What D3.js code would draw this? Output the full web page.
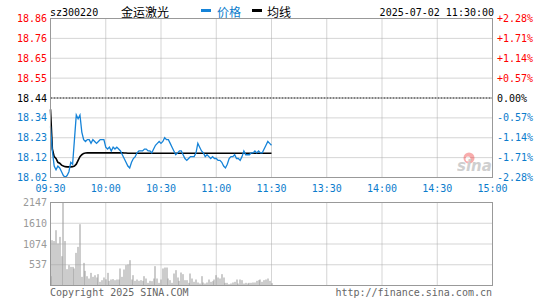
<!DOCTYPE html>
<html>
<head>
<meta charset="utf-8">
<script src="https://cdn.jsdelivr.net/npm/d3@7"></script>
<style>
  body { margin: 0; background: #fff; }
  svg text { font-family: "DejaVu Sans Mono", "Liberation Mono", monospace; font-size: 10px; }
  .cn { font-family: "Noto Sans CJK SC", sans-serif; font-size: 12px; }
</style>
</head>
<body>
<svg id="chart" width="545" height="300"></svg>
<script>
// 行情数据（每分钟一个点，09:30 - 11:30）
const stockCode = 'sz300220';
const stockName = '金运激光';
const dateTime = '2025-07-02 11:30:00';
const preClose = 18.44;
const maxPct = 2.28;

const priceLabels = ['18.86', '18.76', '18.65', '18.55', '18.44', '18.34', '18.23', '18.12', '18.02'];
const pctLabels = ['+2.28%', '+1.71%', '+1.14%', '+0.57%', '0.00%', '-0.57%', '-1.14%', '-1.71%', '-2.28%'];
const timeLabels = ['09:30', '10:00', '10:30', '11:00', '11:30', '13:30', '14:00', '14:30', '15:00'];
const volLabels = ['2147', '1610', '1074', '537'];
const volMax = 2147;

const prices = [
  18.29, 18.16, 18.08, 18.06, 18.08, 18.07, 18.05, 18.03, 18.02, 18.03,
  18.05, 18.10, 18.09, 18.22, 18.35, 18.33, 18.35, 18.26, 18.22, 18.21,
  18.22, 18.22, 18.20, 18.22, 18.21, 18.20, 18.21, 18.22, 18.22, 18.22,
  18.18, 18.17, 18.18, 18.16, 18.18, 18.17, 18.18, 18.17, 18.16, 18.14,
  18.12, 18.10, 18.08, 18.07, 18.10, 18.12, 18.13, 18.15, 18.16, 18.16,
  18.16, 18.17, 18.17, 18.16, 18.16, 18.15, 18.17, 18.19, 18.20, 18.21,
  18.20, 18.21, 18.23, 18.22, 18.22, 18.20, 18.18, 18.16, 18.14, 18.15,
  18.16, 18.16, 18.14, 18.12, 18.11, 18.12, 18.13, 18.13, 18.13, 18.15,
  18.20, 18.18, 18.16, 18.15, 18.13, 18.14, 18.13, 18.12, 18.13, 18.12,
  18.12, 18.11, 18.11, 18.10, 18.08, 18.07, 18.09, 18.12, 18.13, 18.13,
  18.14, 18.12, 18.12, 18.11, 18.13, 18.16, 18.14, 18.14, 18.14, 18.15,
  18.15, 18.16, 18.15, 18.16, 18.15, 18.15, 18.17, 18.19, 18.21, 18.20,
  18.19
];

const avgPrices = [
  18.380, 18.170, 18.130, 18.120, 18.100, 18.095, 18.085, 18.080, 18.077, 18.076,
  18.076, 18.076, 18.077, 18.080, 18.090, 18.110, 18.130, 18.140, 18.147, 18.149,
  18.150, 18.150, 18.150, 18.150, 18.150, 18.150, 18.150, 18.150, 18.150, 18.150,
  18.150, 18.150, 18.150, 18.150, 18.150, 18.150, 18.150, 18.150, 18.150, 18.150,
  18.149, 18.149, 18.148, 18.148, 18.148, 18.148, 18.148, 18.148, 18.148, 18.148,
  18.148, 18.148, 18.148, 18.148, 18.148, 18.148, 18.148, 18.148, 18.148, 18.148,
  18.148, 18.148, 18.148, 18.148, 18.148, 18.148, 18.148, 18.148, 18.148, 18.148,
  18.148, 18.148, 18.148, 18.148, 18.148, 18.148, 18.148, 18.148, 18.148, 18.148,
  18.148, 18.148, 18.148, 18.148, 18.148, 18.148, 18.148, 18.148, 18.148, 18.148,
  18.148, 18.148, 18.148, 18.148, 18.148, 18.148, 18.148, 18.148, 18.148, 18.148,
  18.148, 18.148, 18.148, 18.148, 18.148, 18.148, 18.148, 18.148, 18.148, 18.148,
  18.148, 18.148, 18.148, 18.148, 18.148, 18.148, 18.148, 18.148, 18.148, 18.148,
  18.148
];

const volumes = [
  240, 1172, 1150, 1430, 1086, 1257, 758, 2147, 1150, 422,
  525, 482, 482, 440, 844, 999, 1586, 224, 585, 378,
  240, 180, 327, 224, 265, 207, 293, 94, 137, 207,
  160, 327, 120, 155, 165, 137, 155, 155, 440, 224,
  414, 526, 543, 655, 155, 267, 121, 155, 121, 138,
  121, 241, 181, 69, 121, 112, 181, 500, 181, 69,
  155, 440, 465, 465, 181, 138, 69, 310, 397, 207,
  121, 336, 293, 138, 138, 69, 310, 181, 95, 155,
  78, 52, 241, 78, 52, 78, 155, 95, 112, 155,
  267, 207, 181, 293, 207, 69, 69, 34, 52, 78,
  95, 155, 52, 155, 138, 52, 69, 52, 69, 69,
  78, 78, 121, 138, 155, 95, 138, 155, 181, 120,
  60
];

const svg = d3.select('#chart');
const L = 50.5, R = 492.5;
const priceTop = 18.5, priceBottom = 177.5;
const volTop = 202.5, volBottom = 285.5;

const blue = '#0b7ccc';
const lineBlue = '#1583d8';
const grey = '#999';

const x = d3.scaleLinear().domain([0, 240]).range([L, R]);
const y = d3.scaleLinear()
  .domain([preClose * (1 - maxPct / 100), preClose * (1 + maxPct / 100)])
  .range([priceBottom, priceTop]);
const yVol = d3.scaleLinear().domain([0, volMax]).range([volBottom, volTop]);

// 网格位置
const gridY = d3.range(priceLabels.length).map(i => priceTop + i * (priceBottom - priceTop) / (priceLabels.length - 1));
const gridX = d3.range(timeLabels.length).map(i => x(i * 30));
const volGridY = d3.range(volLabels.length).map(i => volTop + i * (volBottom - volTop) / volLabels.length);

function labelColor(i) {
  if (i < 4) return '#f00';
  if (i === 4) return '#000';
  return blue;
}

// 标题
svg.append('text').attr('x', 50).attr('y', 16).attr('fill', '#000').text(stockCode);
svg.append('text').attr('class', 'cn').attr('x', 121).attr('y', 17).attr('fill', '#000').text(stockName);
svg.append('rect').attr('x', 201).attr('y', 9).attr('width', 10).attr('height', 3).attr('fill', lineBlue);
svg.append('text').attr('class', 'cn').attr('x', 217).attr('y', 17).attr('fill', blue).text('价格');
svg.append('rect').attr('x', 252).attr('y', 9).attr('width', 10).attr('height', 3).attr('fill', '#000');
svg.append('text').attr('class', 'cn').attr('x', 267).attr('y', 17).attr('fill', '#000').text('均线');
svg.append('text').attr('x', 494).attr('y', 16).attr('text-anchor', 'end').attr('fill', '#000').text(dateTime);

// 价格区网格
gridY.forEach((gy, i) => {
  if (i === 0 || i === gridY.length - 1) return;
  svg.append('line')
    .attr('x1', L).attr('x2', R).attr('y1', gy).attr('y2', gy)
    .attr('stroke', i === 4 ? '#000' : '#aaa')
    .attr('stroke-dasharray', i === 4 ? '2,1' : '1,1');
});
gridX.forEach((gx, i) => {
  if (i === 0 || i === gridX.length - 1) return;
  svg.append('line')
    .attr('x1', gx).attr('x2', gx).attr('y1', priceTop).attr('y2', priceBottom)
    .attr('stroke', '#aaa').attr('stroke-dasharray', '1,1');
  svg.append('line')
    .attr('x1', gx).attr('x2', gx).attr('y1', volTop).attr('y2', volBottom)
    .attr('stroke', '#aaa').attr('stroke-dasharray', '1,1');
});
volGridY.forEach((gy, i) => {
  if (i === 0) return;
  svg.append('line')
    .attr('x1', L).attr('x2', R).attr('y1', gy).attr('y2', gy)
    .attr('stroke', '#aaa').attr('stroke-dasharray', '1,1');
});

// 左右刻度
priceLabels.forEach((t, i) => {
  svg.append('text').attr('x', 47).attr('y', gridY[i] + 3.5)
    .attr('text-anchor', 'end').attr('fill', labelColor(i)).text(t);
});
pctLabels.forEach((t, i) => {
  svg.append('text').attr('x', 497).attr('y', gridY[i] + 3.5)
    .attr('fill', labelColor(i)).text(t);
});
timeLabels.forEach((t, i) => {
  svg.append('text').attr('x', gridX[i]).attr('y', 192)
    .attr('text-anchor', 'middle').attr('fill', blue).text(t);
});
volLabels.forEach((t, i) => {
  svg.append('text').attr('x', 47).attr('y', volGridY[i] + 3.5)
    .attr('text-anchor', 'end').attr('fill', grey).text(t);
});

// 新浪水印
const logo = svg.append('g').attr('opacity', 0.4);
logo.append('circle').attr('cx', 469).attr('cy', 158).attr('r', 5.5).attr('fill', '#e33');
logo.append('circle').attr('cx', 468).attr('cy', 159).attr('r', 2.5).attr('fill', '#fff');
logo.append('text').attr('x', 457).attr('y', 171)
  .style('font-family', 'DejaVu Sans').style('font-size', '15px')
  .style('font-style', 'italic').style('font-weight', 'bold')
  .attr('fill', '#888').text('sina');

// 成交量
svg.append('g').selectAll('rect').data(volumes).join('rect')
  .attr('x', (d, i) => Math.round(x(i)) - 0.5)
  .attr('y', d => yVol(d))
  .attr('width', 1)
  .attr('height', d => volBottom - yVol(d))
  .attr('fill', grey);

// 均线 & 价格
svg.append('path').datum(avgPrices)
  .attr('fill', 'none').attr('stroke', '#000').attr('stroke-width', 1.6)
  .attr('d', d3.line().x((d, i) => x(i)).y(d => y(d)));
svg.append('path').datum(prices)
  .attr('fill', 'none').attr('stroke', lineBlue).attr('stroke-width', 1.3)
  .attr('d', d3.line().x((d, i) => x(i)).y(d => y(d)));

// 边框
svg.append('rect').attr('x', L).attr('y', priceTop).attr('width', R - L).attr('height', priceBottom - priceTop)
  .attr('fill', 'none').attr('stroke', grey);
svg.append('rect').attr('x', L).attr('y', volTop).attr('width', R - L).attr('height', volBottom - volTop)
  .attr('fill', 'none').attr('stroke', grey);

// 页脚
svg.append('text').attr('x', 50).attr('y', 296).attr('fill', '#666').text('Copyright 2025 SINA.COM');
svg.append('text').attr('x', 492).attr('y', 296).attr('text-anchor', 'end').attr('fill', '#666').text('http://finance.sina.com.cn');
</script>
</body>
</html>
